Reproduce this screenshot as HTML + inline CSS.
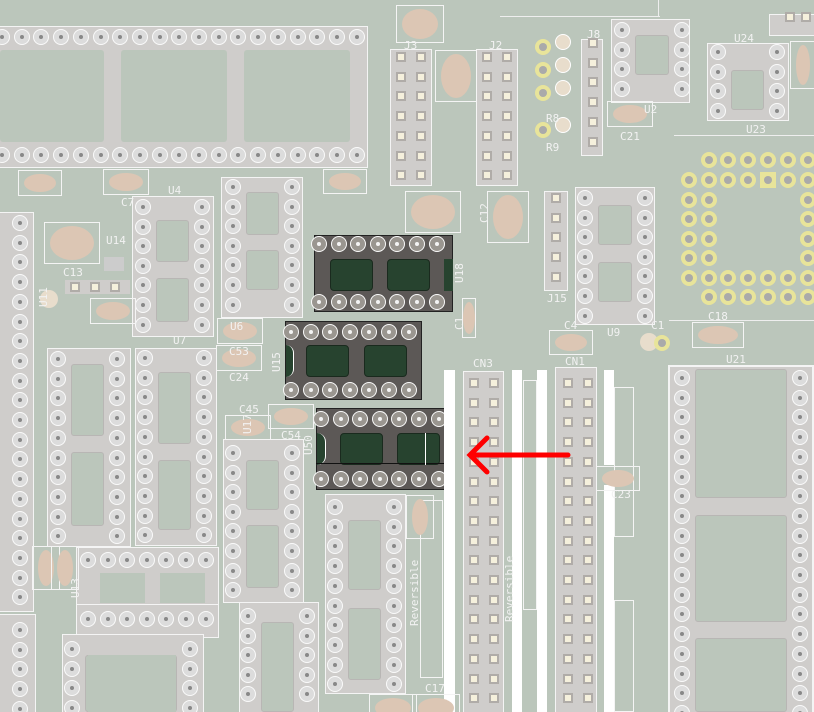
<!DOCTYPE html>
<html><head><meta charset="utf-8"><style>
html,body{margin:0;padding:0}
#b{position:relative;width:814px;height:712px;background:#bbc6bb;overflow:hidden;font-family:"DejaVu Sans Mono","Liberation Mono",monospace;}
#b div{position:absolute;box-sizing:border-box}
.t{color:#f2f2f2;font-size:11px;white-space:nowrap;line-height:1}
</style></head><body><div id="b"></div>
<script>
var B=document.getElementById('b'),H='';
function R(x,y,w,h,bg,extra){H+='<div style="left:'+x+'px;top:'+y+'px;width:'+w+'px;height:'+h+'px;background:'+bg+';'+(extra||'')+'"></div>';}
function O(x,y,w,h){R(x,y,w,h,'transparent','border:1px solid #f4f4f4');}
function P(cx,cy,dark){var r=8;H+='<div style="left:'+(cx-r)+'px;top:'+(cy-r)+'px;width:'+(2*r)+'px;height:'+(2*r)+'px;border-radius:50%;background:'+(dark?'#9a9690':'#dcdcdc')+';border:1.5px solid #fafafa"></div>';R(cx-2,cy-2,4,4,dark?'#f4f4f4':'#888','border-radius:50%');}
function Y(cx,cy,sq){H+='<div style="left:'+(cx-8)+'px;top:'+(cy-8)+'px;width:16px;height:16px;border-radius:'+(sq?'0':'50%')+';background:#e8e49a"></div>';R(cx-4,cy-4,8,8,'#aaa','border-radius:50%');}
function S(cx,cy){R(cx-5,cy-5,10,10,'#b0aca8');R(cx-3,cy-3,6,6,'#f5f0dc');}
function C(cx,cy,w,h,box){if(box)O(cx-w/2-6,cy-h/2-4,w+12,h+8);H+='<div style="left:'+(cx-w/2)+'px;top:'+(cy-h/2)+'px;width:'+w+'px;height:'+h+'px;border-radius:50%;background:#dcc6b4"></div>';}
function T(x,y,s,rot,sz){H+='<div class="t" style="left:'+x+'px;top:'+y+'px;'+(sz?'font-size:'+sz+'px;':'')+(rot?'transform:rotate(-90deg);transform-origin:0 0;':'')+'">'+s+'</div>';}
function DV(x,y,w,h,xl,xr,y0,n,st,wins){R(x,y,w,h,'#cfcdcb');O(x-1,y-1,w+2,h+2);
 (wins||[]).forEach(function(a){R(xl+13,a[0],xr-xl-26,a[1]-a[0],'#bbc6bb','border-radius:3px;border:1px solid #b8b6b4');});
 for(var i=0;i<n;i++){P(xl,y0+i*st);P(xr,y0+i*st);}}
function DH(x,y,w,h,yt,yb,x0,n,st,wins){R(x,y,w,h,'#cfcdcb');O(x-1,y-1,w+2,h+2);
 (wins||[]).forEach(function(a){R(a[0],yt+13,a[1]-a[0],yb-yt-26,'#bbc6bb','border-radius:3px');});
 for(var i=0;i<n;i++){P(x0+i*st,yt);if(yb)P(x0+i*st,yb);}}
function DK(x,y,w,h,yt,yb,x0,n,st,wins,wy){R(x,y,w,h,'#5c5856','border:1px solid #222');
 wins.forEach(function(a){R(a,wy,43,32,'#27432f','border-radius:4px;border:1px solid #1a2a1e');});
 for(var i=0;i<n;i++){P(x0+i*st,yt,1);P(x0+i*st,yb,1);}}
function HD(x,y,w,h,xs,y0,n,st){R(x,y,w,h,'#cfcdcb');O(x-1,y-1,w+2,h+2);for(var i=0;i<n;i++)xs.forEach(function(c){S(c,y0+i*st);});}

DH(-10,27,377,140,37,155,2,19,19.7,[[0,104],[121,227],[244,350]]);
DV(-20,213,53,398,-10,20,223,20,19.7,[]);
DV(-20,615,55,100,-10,20,630,5,19.7,[]);
DV(133,197,80,139,143,202,207,7,19.6,[[220,262],[278,322]]);
DV(222,178,80,139,233,292,187,7,19.6,[[192,235],[250,290]]);
DV(48,349,82,197,58,117,359,10,19.7,[[364,436],[452,526]]);
DV(136,349,80,196,145,204,358,10,19.7,[[372,444],[460,530]]);
DV(224,440,79,162,233,292,453,8,19.6,[[460,510],[525,588]]);
DH(77,548,141,57,560,0,88,7,19.6,[]);R(100,573,45,30,'#bbc6bb');R(160,573,45,30,'#bbc6bb');
DH(77,605,141,32,619,0,88,7,19.6,[]);
DV(63,635,140,80,72,190,649,4,19.6,[[655,712]]);R(88,655,88,60,'#bbc6bb');
DV(240,603,78,112,248,307,616,5,19.6,[[622,712]]);
DV(326,495,79,198,335,394,507,10,19.7,[[520,590],[608,680]]);
// dark chips
DK(314,235,139,77,244,302,319,7,19.6,[330,387],259);R(444,259,9,32,'#27432f');
DK(285,321,137,79,332,390,291,7,19.6,[306,364],345);R(286,345,8,32,'#27432f','border-right:1px solid #fff;border-radius:0 10px 10px 0');
DK(316,408,139,82,419,479,321,7,19.6,[340,397],433);R(317,433,9,32,'#27432f','border-right:1px solid #fff;border-radius:0 10px 10px 0');
R(316,463,139,1,'#111');R(425,433,1,32,'#fff');
O(462,298,14,40);C(469,318,12,32);
R(444,370,11,342,'#fff');R(512,370,10,342,'#fff');R(537,370,10,342,'#fff');R(604,370,10,95,'#fff');R(604,485,10,227,'#fff');
O(420,500,23,178);O(523,380,14,230);O(614,387,20,150);O(614,600,20,112);
HD(464,372,39,340,[474,494],383,17,19.7);
HD(556,368,40,344,[568,588],383,17,19.7);
T(473,358,'CN3');T(565,356,'CN1');
T(409,626,'Reversible',1,11);T(504,622,'Reversible',1,11);
DV(670,367,142,345,682,800,378,18,19.7,[[369,498],[515,622],[638,712]]);O(668,365,146,350);
HD(391,50,40,135,[401,421],57,7,19.7);HD(477,50,40,135,[487,507],57,7,19.7);
HD(582,40,20,115,[593],43,6,19.7);HD(545,192,22,98,[556],198,5,19.7);
HD(770,15,44,20,[790,806],17,1,1);
DV(612,20,77,82,622,682,30,4,19.6,[[35,75]]);
DV(708,44,80,76,718,777,52,4,19.6,[[70,110]]);
DV(576,188,78,136,585,645,198,7,19.6,[[205,245],[262,302]]);
var xs=[689,709,728,748,768,788,808];
[160,180].forEach(function(y,j){xs.forEach(function(x,i){if(j==0&&i==0)return;Y(x,y,(j==1&&i==4));});});
[200,219,239,258].forEach(function(y){Y(689,y);Y(709,y);Y(808,y);});
xs.forEach(function(x){Y(x,278);});xs.slice(1).forEach(function(x){Y(x,297);});
R(669,320,145,1,'#eee');R(674,135,140,1,'#eee');R(500,16,160,1,'#eee');R(658,0,1,16,'#eee');
[42,65,88,125].forEach(function(y){Y(543,y+5);H+='<div style="left:555px;top:'+(y-8)+'px;width:16px;height:16px;border-radius:50%;background:#e8ddcc;border:1px solid #fff"></div>';});
R(104,257,20,14,'#ccc');R(65,280,65,14,'#cfcdcb');S(75,287);S(95,287);S(115,287);
H+='<div style="left:40px;top:290px;width:18px;height:18px;border-radius:50%;background:#e8ddcc"></div>';
H+='<div style="left:640px;top:333px;width:18px;height:18px;border-radius:50%;background:#e8ddcc"></div>';Y(662,343);
C(40,183,32,18,1);C(126,182,34,18,1);C(345,181,32,17,1);C(420,24,36,30,1);C(456,76,30,44,1);
C(72,243,44,34,1);C(113,311,34,18,1);C(433,212,44,34,1);C(508,217,30,44,1);
C(240,331,34,18,1);C(239,358,34,18,1);C(248,427,34,17,1);C(291,416,34,17,1);
C(420,517,16,36,1);C(571,342,32,17,1);C(718,335,40,18,1);C(618,478,32,17,1);
C(46,568,16,36,1);C(65,568,16,36,1);C(630,114,34,18,1);C(803,65,14,40,1);
C(393,708,36,20,1);C(436,708,36,20,1);
T(168,185,'U4');T(230,321,'U6');T(173,335,'U7');T(229,346,'C53');T(229,372,'C24');T(239,404,'C45');T(281,430,'C54');
T(454,283,'U18',1);T(454,330,'C1',1);T(271,372,'U15',1);T(303,455,'U50',1);T(242,434,'U17',9);
T(121,197,'C7');T(106,235,'U14');T(63,267,'C13');T(38,307,'U11',1);T(70,598,'U13',1);
T(489,40,'J2');T(404,40,'J3');T(587,29,'J8');T(546,113,'R8');T(546,142,'R9');T(547,293,'J15');
T(620,131,'C21');T(644,104,'U2');T(734,33,'U24');T(746,124,'U23');T(564,320,'C4');T(607,327,'U9');
T(651,320,'C1');T(708,311,'C18');T(726,354,'U21');T(611,489,'C23');T(425,683,'C17');T(479,223,'C12',1);
B.innerHTML=H+'<svg style="position:absolute;left:0;top:0" width="814" height="712"><path d="M568 455 L470 455 M487 438 L470 455 L487 472" stroke="#f00" stroke-width="5" fill="none" stroke-linecap="round"/></svg>';
</script></body></html>
